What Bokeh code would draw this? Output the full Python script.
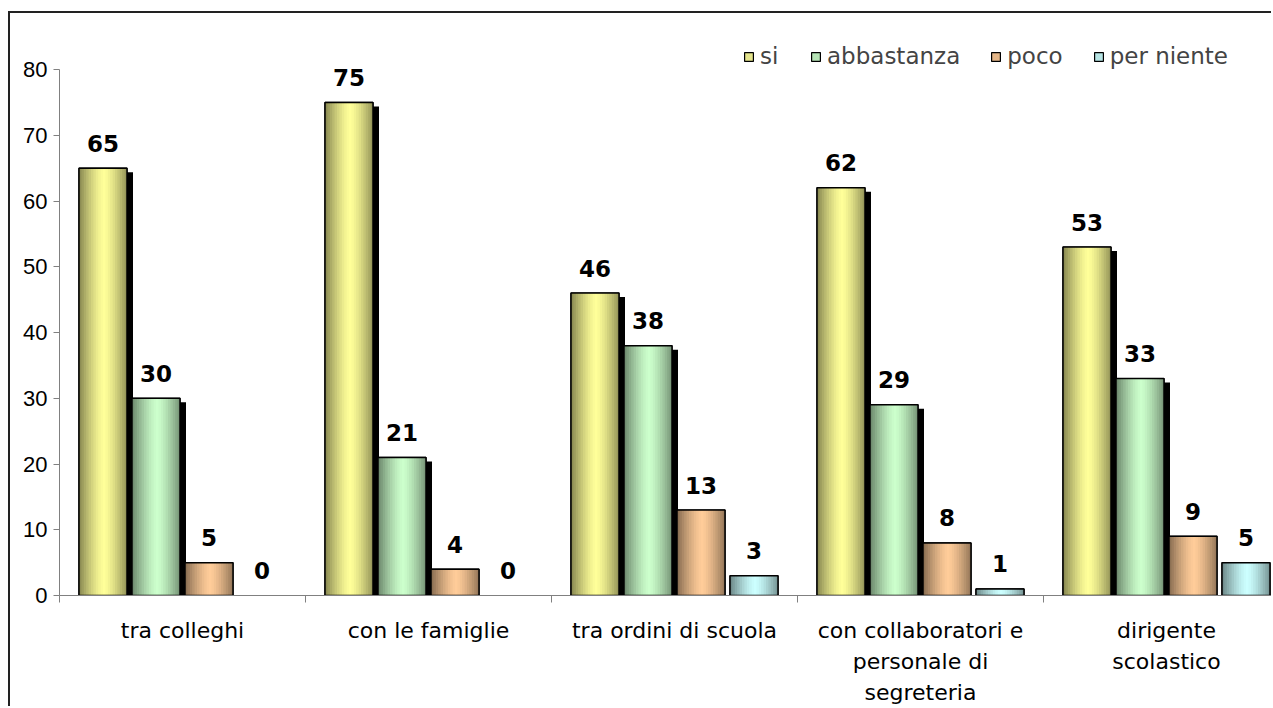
import numpy as np
from bokeh.plotting import figure
from bokeh.models import FixedTicker, Legend, LegendItem, Range1d
from bokeh.core.properties import value
from bokeh.embed import file_html
from bokeh.resources import INLINE

# ---------------- data ----------------
categories = ["tra colleghi", "con le famiglie", "tra ordini di scuola",
              "con collaboratori e\npersonale di\nsegreteria", "dirigente\nscolastico"]
series_names = ["si", "abbastanza", "poco", "per niente"]
si = [65, 75, 46, 62, 53]
abbastanza = [30, 21, 38, 29, 33]
poco = [5, 4, 13, 8, 9]
per_niente = [0, 0, 3, 1, 5]
y_ticks = [0, 10, 20, 30, 40, 50, 60, 70, 80]

# ---------------- styles ----------------
light_colors = [(255, 255, 153), (204, 255, 204), (255, 204, 153), (204, 255, 255)]
legend_colors = ["#E4E48C", "#B6E4B6", "#E4B688", "#B6E4E4"]
has_shadow = [True, True, False, False]
series = [si, abbastanza, poco, per_niente]

cat_px = 246.0          # pixels per category
px_per_unit = 6.575     # pixels per y unit
step = 53 / cat_px
bar_w = 48 / cat_px
n_stripes = 20

p = figure(width=1263, height=695,
           x_range=Range1d(0, (1273 - 59) / cat_px),
           y_range=Range1d(0, (595 - 20) / px_per_unit),
           output_backend="svg", toolbar_location=None,
           min_border_left=49, min_border_right=0,
           min_border_top=7, min_border_bottom=113,
           styles={"border-left": "2px solid #222", "border-top": "2px solid #222",
                   "margin-left": "8px", "margin-top": "11px"})
p.xgrid.visible = False
p.ygrid.visible = False
p.outline_line_color = None
p.background_fill_color = "white"

def hexc(rgb):
    return "#%02x%02x%02x" % tuple(int(round(c)) for c in rgb)

# shadows
sl, sr, st, sb = [], [], [], []
for j, vals in enumerate(series):
    if not has_shadow[j]:
        continue
    for i, v in enumerate(vals):
        if v <= 0:
            continue
        xc = i + 0.5 + (j - 1.5) * step
        sl.append(xc - bar_w / 2 + 6 / cat_px)
        sr.append(xc + bar_w / 2 + 6 / cat_px)
        st.append(v - 4 / px_per_unit)
        sb.append(0)
p.quad(left=sl, right=sr, top=st, bottom=sb, fill_color="black", line_color=None)

# base bars per series (used by legend), gradient stripes, outlines
legend_items = []
gl, gr, gt, gb, gc = [], [], [], [], []
ol, orr, ot, ob = [], [], [], []
for j, vals in enumerate(series):
    light = np.array(light_colors[j], dtype=float)
    dark = light * 0.52
    bl, br, bt, bb = [], [], [], []
    for i, v in enumerate(vals):
        if v <= 0:
            continue
        xc = i + 0.5 + (j - 1.5) * step
        x0 = xc - bar_w / 2
        bl.append(x0); br.append(x0 + bar_w); bt.append(v); bb.append(0)
        sw = bar_w / n_stripes
        for k in range(n_stripes):
            t = (k + 0.5) / n_stripes
            g = 1 - abs((t - 0.52) / 0.52) ** 1.4
            g = max(0.0, min(1.0, g))
            col = dark + (light - dark) * g
            gl.append(x0 + k * sw)
            gr.append(min(x0 + (k + 1.3) * sw, x0 + bar_w))
            gt.append(v)
            gb.append(0)
            gc.append(hexc(col))
        ol.append(x0); orr.append(x0 + bar_w); ot.append(v); ob.append(0)
    r = p.quad(left=bl, right=br, top=bt, bottom=bb, fill_color=legend_colors[j],
               line_color="black", line_width=1.2)
    legend_items.append(LegendItem(label=series_names[j], renderers=[r]))
p.quad(left=gl, right=gr, top=gt, bottom=gb, fill_color=gc, line_color=None)
p.quad(left=ol, right=orr, top=ot, bottom=ob, fill_color=None, line_color="black", line_width=1.5)

# data labels
lx, ly, lt = [], [], []
for j, vals in enumerate(series):
    for i, v in enumerate(vals):
        lx.append(i + 0.5 + (j - 1.5) * step)
        ly.append(v)
        lt.append(str(v))
p.text(x=lx, y=ly, text=lt, text_font=value("DejaVu Sans"), text_font_style="bold",
       text_font_size="23px", text_align="center", text_baseline="alphabetic",
       y_offset=-25, text_color="black")

# legend
legend = Legend(items=legend_items, orientation="horizontal", location=(684, 526),
                label_text_font="DejaVu Sans", label_text_font_size="23px",
                glyph_width=11, glyph_height=11, label_standoff=6, spacing=30,
                padding=0, margin=0, border_line_color=None, background_fill_alpha=0)
p.add_layout(legend)

# y axis
p.yaxis.ticker = FixedTicker(ticks=y_ticks)
p.yaxis.bounds = (0, 80)
p.yaxis.axis_line_color = "#808080"
p.yaxis.major_tick_line_color = "#808080"
p.yaxis.major_tick_out = 6
p.yaxis.major_tick_in = 0
p.yaxis.minor_tick_line_color = None
p.yaxis.major_label_standoff = 6
p.yaxis.major_label_text_font = "Liberation Sans"
p.yaxis.major_label_text_font_size = "22px"
p.yaxis.major_label_text_color = "black"

# x axis
centers = [i + 0.5 for i in range(len(categories))]
bounds_ticks = [float(i) for i in range(len(categories))]
p.xaxis.ticker = FixedTicker(ticks=centers, minor_ticks=bounds_ticks)
p.xaxis.major_label_overrides = {c: lab for c, lab in zip(centers, categories)}
p.xaxis.axis_line_color = "#808080"
p.xaxis.major_tick_line_color = None
p.xaxis.major_tick_out = 0
p.xaxis.major_tick_in = 0
p.xaxis.minor_tick_line_color = "#808080"
p.xaxis.minor_tick_out = 7
p.xaxis.minor_tick_in = 0
p.xaxis.major_label_standoff = 15
p.xaxis.major_label_text_font = "DejaVu Sans"
p.xaxis.major_label_text_font_size = "22px"
p.xaxis.major_label_text_line_height = 1.25
p.xaxis.major_label_text_color = "black"

open("out.html", "w").write(file_html(p, INLINE))
